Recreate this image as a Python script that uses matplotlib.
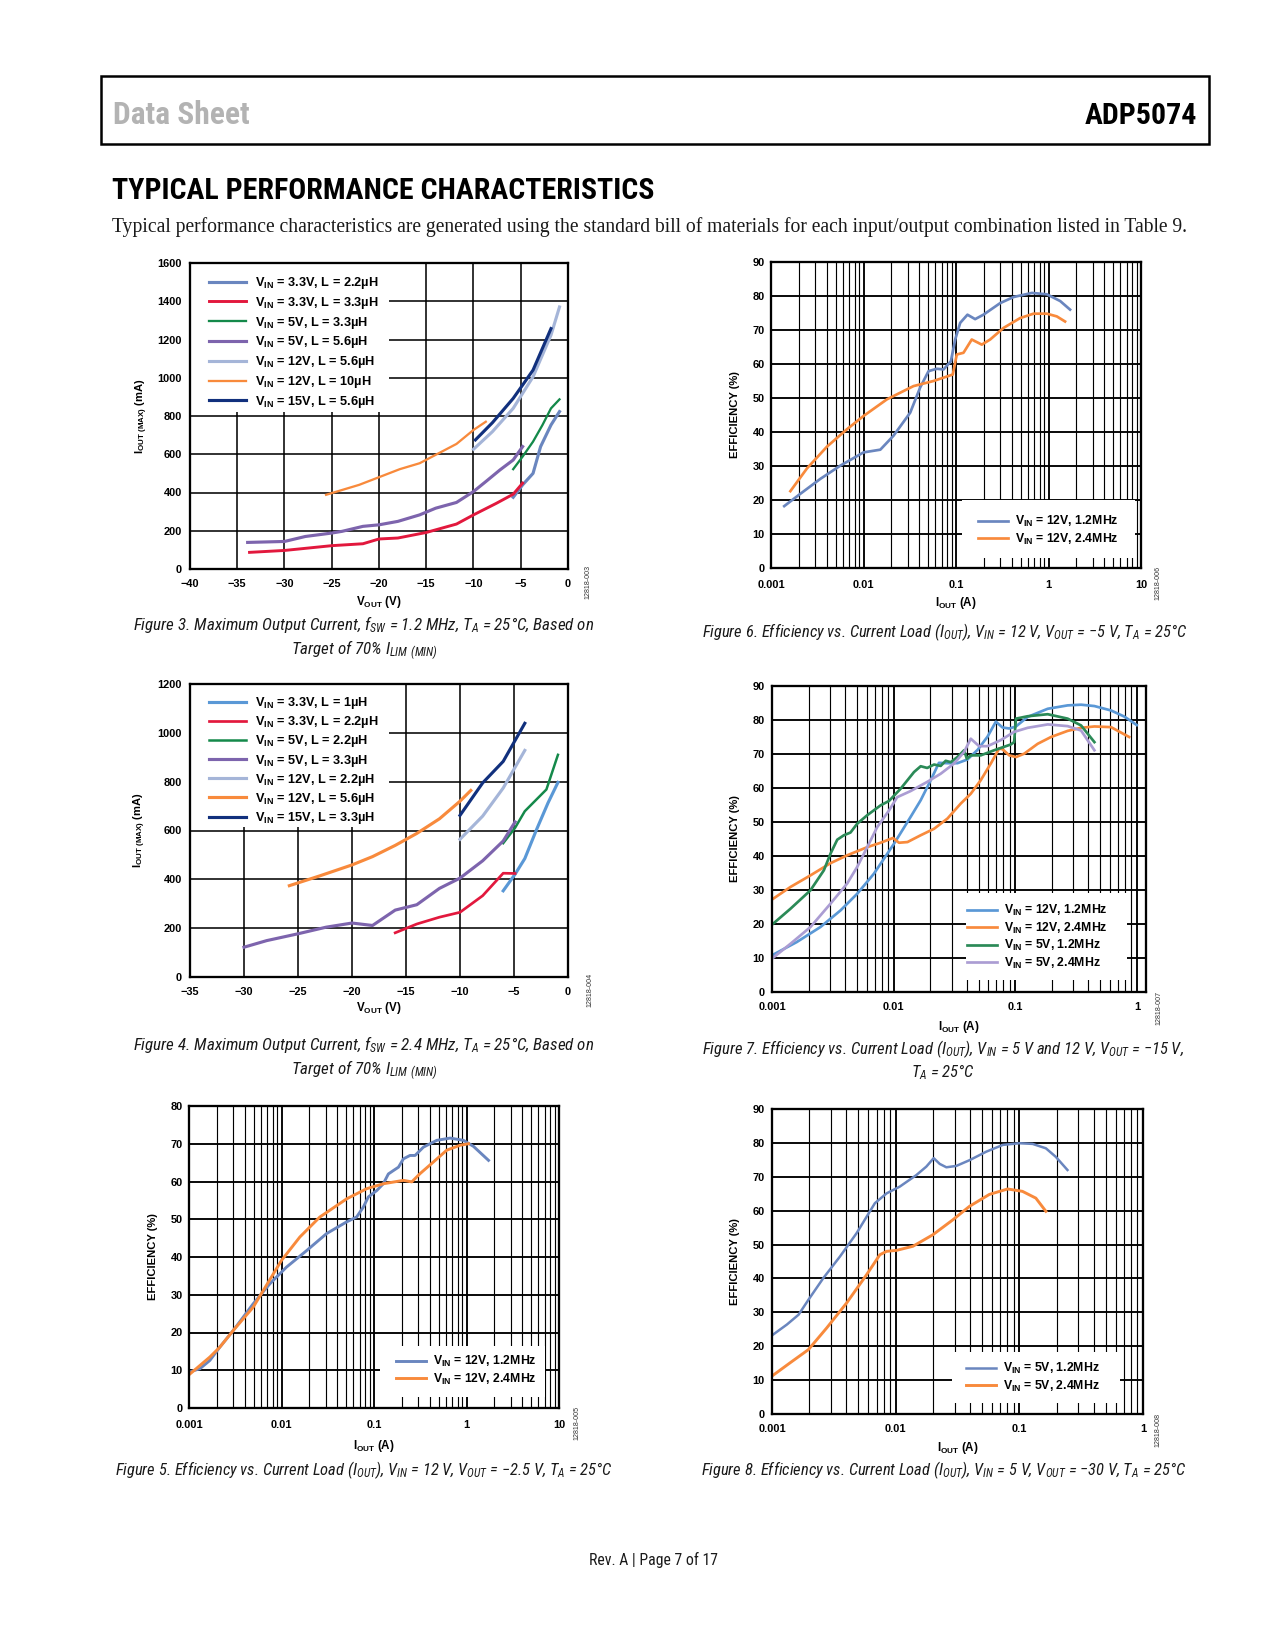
import matplotlib
matplotlib.use("Agg")
import matplotlib.pyplot as plt
from matplotlib import font_manager as fm
from matplotlib.patches import Rectangle
from matplotlib.ticker import LogLocator, NullFormatter
import numpy as np

W, H = 1275, 1650

# ---- Figure 3 data (fSW = 1.2 MHz), VOUT (V) vs IOUT(MAX) (mA)
f3_x_33v_22 = [-5.8, -4.8, -3.7, -2.9, -1.8, -0.9]
f3_y_33v_22 = [375, 440, 500, 640, 753, 823]
f3_x_33v_33 = [-33.7, -30, -25, -21.7, -20, -18, -15, -11.8, -10, -7.6, -5.8, -4.8]
f3_y_33v_33 = [87, 97, 122, 132, 157, 162, 191, 235, 283, 343, 391, 449]
f3_x_5v_33 = [-5.8, -4.8, -3.7, -2.7, -1.8, -0.9]
f3_y_5v_33 = [522, 588, 666, 753, 840, 887]
f3_x_5v_56 = [-33.9, -30, -27.8, -25, -23.9, -21.7, -20, -18, -15.7, -14, -11.8, -10, -8.7, -7.2, -5.8, -4.8]
f3_y_5v_56 = [139, 144, 170, 188, 197, 223, 231, 249, 283, 318, 348, 405, 457, 518, 570, 640]
f3_x_12v_56 = [-10, -8, -5.8, -3.7, -1.8, -0.9]
f3_y_12v_56 = [626, 718, 840, 1005, 1223, 1370]
f3_x_12v_10 = [-25.6, -22.1, -20, -17.8, -15.7, -14, -11.8, -10, -8.7]
f3_y_12v_10 = [388, 440, 480, 522, 553, 597, 654, 727, 770]
f3_x_15v_56 = [-9.8, -8, -5.8, -4.8, -3.7, -1.8]
f3_y_15v_56 = [675, 765, 892, 962, 1040, 1257]

# ---- Figure 4 data (fSW = 2.4 MHz)
f4_x_33v_1 = [-6.0, -4.9, -4.0, -2.9, -1.85, -0.93]
f4_y_33v_1 = [353, 421, 485, 605, 713, 797]
f4_x_33v_22 = [-16, -14, -11.9, -10, -7.9, -6.0, -4.9]
f4_y_33v_22 = [181, 217, 245, 265, 333, 425, 424]
f4_x_5v_22 = [-6.0, -4.9, -4.0, -2.0, -0.93]
f4_y_5v_22 = [548, 611, 679, 768, 910]
f4_x_5v_33 = [-30, -27.9, -25, -22.4, -20, -18.1, -16, -14, -11.9, -10, -7.9, -6, -4.9]
f4_y_5v_33 = [122, 149, 177, 204, 221, 211, 274, 296, 363, 405, 476, 557, 635]
f4_x_12v_22 = [-10, -7.9, -6, -4.0]
f4_y_12v_22 = [564, 659, 774, 928]
f4_x_12v_56 = [-25.8, -23, -20, -18.1, -16, -14, -11.9, -10, -9]
f4_y_12v_56 = [374, 414, 459, 493, 539, 588, 648, 720, 764]
f4_x_15v_33 = [-10, -7.9, -6, -4.0]
f4_y_15v_33 = [662, 795, 883, 1039]

# ---- Figure 5 data, VOUT = -2.5 V
f5_i_12 = [0.001, 0.00131, 0.00168, 0.00215, 0.0030, 0.00494, 0.00748, 0.0113, 0.0187, 0.0307,
           0.0506, 0.0649, 0.0766, 0.0868, 0.107, 0.126, 0.143, 0.162, 0.184, 0.208, 0.245,
           0.278, 0.342, 0.477, 0.665, 0.929, 1.19, 1.73]
f5_e_12 = [9.5, 10.4, 12.6, 16.1, 20.5, 27.6, 32.9, 37.3, 41.7, 46.2, 49.3, 50.6, 53.2, 55.9,
           57.6, 59.4, 62.0, 62.9, 63.8, 66.0, 66.9, 66.9, 69.1, 70.9, 71.5, 70.9, 69.3, 65.6]
f5_i_24 = [0.001, 0.00168, 0.00215, 0.0030, 0.00494, 0.01, 0.0158, 0.026, 0.0506, 0.0834,
           0.126, 0.208, 0.256, 0.315, 0.44, 0.612, 0.853, 1.05]
f5_e_24 = [8.8, 13.5, 16.1, 20.5, 26.7, 39.1, 45.3, 50.6, 55.4, 58.1, 59.4, 60.3, 59.9, 62.1,
           65.2, 68.3, 69.6, 70.0]

# ---- Figure 6 data, VOUT = -5 V
f6_i_12 = [0.00139, 0.00207, 0.00341, 0.00561, 0.01, 0.0152, 0.0211, 0.032, 0.041, 0.0505,
           0.062, 0.0733, 0.088, 0.098, 0.111, 0.133, 0.161, 0.198, 0.30, 0.419, 0.66, 0.96,
           1.34, 1.71]
f6_e_12 = [18.2, 21.8, 26.2, 30.1, 34.0, 34.8, 38.9, 45.7, 53.1, 57.9, 58.6, 58.4, 60.8, 67.2,
           72.1, 74.5, 73.2, 74.5, 77.9, 79.7, 80.9, 80.5, 78.5, 76.0]
f6_i_24 = [0.00162, 0.00245, 0.00403, 0.00662, 0.01, 0.0179, 0.0347, 0.0571, 0.0923, 0.102,
           0.1205, 0.148, 0.19, 0.234, 0.326, 0.493, 0.688, 0.96, 1.23, 1.51]
f6_e_24 = [22.6, 29.3, 35.7, 40.8, 44.7, 49.6, 53.5, 55.0, 56.9, 62.8, 63.3, 67.2, 65.7, 67.2,
           70.6, 73.5, 74.8, 74.8, 74.0, 72.5]

# ---- Figure 7 data, VOUT = -15 V
f7_i_12v12 = [0.001, 0.0016, 0.0025, 0.00366, 0.00502, 0.00689, 0.01007, 0.0138, 0.0167, 0.0202,
              0.0236, 0.0277, 0.0335, 0.0405, 0.049, 0.0592, 0.0693, 0.0787, 0.0893, 0.1014,
              0.1265, 0.185, 0.27, 0.348, 0.448, 0.614, 0.79, 1.0]
f7_e_12v12 = [10.8, 14.7, 19.1, 24.0, 28.9, 34.8, 43.6, 51.5, 56.4, 62.3, 67.4, 67.3, 67.3, 68.4,
              71.2, 75.1, 79.5, 77.8, 77.5, 78.1, 80.9, 83.3, 84.3, 84.5, 84.1, 82.8, 81.0, 78.5]
f7_i_12v24 = [0.001, 0.00142, 0.00207, 0.00303, 0.00415, 0.00607, 0.00782, 0.00988, 0.01107,
              0.0130, 0.0167, 0.0215, 0.0277, 0.0356, 0.0431, 0.0521, 0.063, 0.0738, 0.0787,
              0.0893, 0.1014, 0.1187, 0.153, 0.197, 0.27, 0.348, 0.448, 0.614, 0.865]
f7_e_12v24 = [27.2, 30.9, 34.3, 37.9, 40.2, 42.6, 43.9, 45.3, 43.9, 44.1, 46.1, 48.0, 51.0, 55.4,
              58.3, 62.3, 67.2, 71.6, 71.4, 69.6, 69.1, 70.1, 73.0, 75.0, 76.8, 77.7, 78.1, 77.9,
              75.0]
f7_i_5v12 = [0.001, 0.00142, 0.00207, 0.00267, 0.00303, 0.00344, 0.0039, 0.00442, 0.00502,
             0.00607, 0.00782, 0.00917, 0.01143, 0.01472, 0.0167, 0.0189, 0.0215, 0.0244,
             0.0268, 0.0295, 0.0335, 0.038, 0.04, 0.0431, 0.0521, 0.0671, 0.092, 0.098, 0.1014,
             0.1265, 0.185, 0.27, 0.348, 0.448]
f7_e_5v12 = [19.8, 24.5, 29.9, 35.8, 40.7, 44.8, 46.1, 46.9, 49.5, 52.0, 54.9, 56.2, 59.8, 64.7,
             66.4, 65.9, 66.9, 66.5, 68.0, 67.6, 69.1, 71.1, 68.6, 69.6, 69.6, 71.1, 72.8, 73.5,
             80.4, 81.1, 81.7, 80.4, 78.4, 73.5]
f7_i_5v24 = [0.001, 0.00142, 0.00207, 0.00303, 0.00415, 0.00502, 0.00607, 0.00733, 0.00917,
             0.0107, 0.0138, 0.0189, 0.0244, 0.0314, 0.038, 0.0431, 0.0505, 0.0592, 0.0762,
             0.098, 0.1265, 0.185, 0.27, 0.348, 0.448]
f7_e_5v24 = [9.8, 14.2, 19.1, 26.0, 31.9, 36.8, 42.6, 48.5, 53.4, 57.3, 59.1, 61.8, 64.2, 67.2,
             70.6, 74.5, 72.3, 72.3, 74.1, 76.5, 77.7, 78.7, 78.2, 76.9, 71.1]

# ---- Figure 8 data, VOUT = -30 V
f8_i_12 = [0.001, 0.00132, 0.00164, 0.00197, 0.0026, 0.00355, 0.00484, 0.00679, 0.00844,
           0.0108, 0.0147, 0.0177, 0.0203, 0.0227, 0.0257, 0.0309, 0.0396, 0.054, 0.0735, 0.1,
           0.128, 0.164, 0.197, 0.245]
f8_e_12 = [23.2, 26.4, 29.3, 33.7, 40.1, 46.5, 53.4, 62.2, 65.1, 67.1, 70.5, 73.0, 75.5, 73.8,
           72.8, 73.2, 74.9, 77.4, 79.4, 79.9, 79.7, 78.4, 75.9, 72.0]
f8_i_24 = [0.001, 0.0014, 0.00197, 0.00277, 0.00402, 0.00582, 0.00745, 0.00844, 0.0102, 0.0138,
           0.02, 0.029, 0.0396, 0.0573, 0.0805, 0.106, 0.136, 0.164]
f8_e_24 = [11.2, 15.1, 19.0, 25.4, 32.8, 41.1, 47.0, 48.0, 48.3, 49.5, 52.9, 57.3, 61.3, 64.8,
           66.4, 65.7, 63.7, 59.8]

log_ticks = [0.001, 0.01, 0.1, 1, 10]
log_labels = ["0.001", "0.01", "0.1", "1", "10"]

names = {f.name for f in fm.fontManager.ttflist}
SANS = "Liberation Sans"
SERIF = "Liberation Serif"
narrow_cands = ["Roboto Condensed", "Liberation Sans Narrow", "Open Sans Condensed",
                "Noto Sans Condensed", "DejaVu Sans Condensed"]
NARROW = next((n for n in narrow_cands if n in names), SANS)

plt.rcParams["font.family"] = [SANS, "DejaVu Sans"]
plt.rcParams["font.weight"] = "bold"
plt.rcParams["axes.labelweight"] = "bold"
plt.rcParams["mathtext.default"] = "regular"

C_BLUE = "#6a86bf"
C_RED = "#e2183d"
C_GREEN = "#14894a"
C_PURPLE = "#7d64ad"
C_LBLUE = "#a5b5d8"
C_ORANGE = "#f88a3c"
C_NAVY = "#11307d"
C_SKY = "#5a98d6"
C_LAV = "#ab9dd3"

fig = plt.figure(figsize=(W / 150, H / 150), dpi=150)
to_fit = []


def fx(x):
    return x / W


def fy(y):
    return 1 - y / H


def make_axes(box, xpad, ypad, xoff, yoff, xlabel, ylabel):
    x0, y0, x1, y1 = box
    ax = fig.add_axes([fx(x0), fy(y1), (x1 - x0) / W, (y1 - y0) / H])
    ax.set_axisbelow(True)
    ax.tick_params(which="both", length=0, labelsize=5.3)
    ax.tick_params(axis="x", pad=xpad)
    ax.tick_params(axis="y", pad=ypad)
    for s in ax.spines.values():
        s.set_linewidth(1.1)
    ax.set_xlabel(xlabel, fontsize=5.6, va="center")
    ax.set_ylabel(ylabel, fontsize=5.4, va="center")
    ax.xaxis.set_label_coords(0.5, -xoff / (y1 - y0))
    ax.yaxis.set_label_coords(-yoff / (x1 - x0), 0.5)
    return ax


def log_x(ax, xmax):
    ax.set_xscale("log")
    ax.set_xlim(0.001, xmax)
    ax.xaxis.set_minor_locator(LogLocator(base=10, subs=np.arange(2, 10)))
    ax.xaxis.set_minor_formatter(NullFormatter())
    ticks = [t for t in log_ticks if t <= xmax * 1.001]
    ax.set_xticks(ticks, log_labels[:len(ticks)])
    ax.grid(True, which="major", color="black", linewidth=0.9)
    ax.xaxis.grid(True, which="minor", color="black", linewidth=0.55)
    ax.set_ylim(0, 90)
    ax.set_yticks(range(0, 91, 10))


def blank(ax, x0, y0, x1, y1):
    ax.add_patch(Rectangle((fx(x0), fy(y1)), (x1 - x0) / W, (y1 - y0) / H,
                           transform=fig.transFigure, facecolor="white",
                           edgecolor="none", zorder=1))


def legend(ax, x, y, size, hl, tp, ls):
    ax.legend(loc="upper left", bbox_to_anchor=(fx(x), fy(y)), bbox_transform=fig.transFigure,
              frameon=False, prop={"weight": "bold", "size": size}, handlelength=hl,
              handletextpad=tp, labelspacing=ls, borderpad=0, borderaxespad=0)


def tag(x, y, s):
    fig.text(fx(x), fy(y), s, rotation=90, fontsize=3.4, weight="normal", color="#333333",
             ha="center", va="center")


def caption(x, y, s, width):
    t = fig.text(fx(x), fy(y), s, fontsize=8.2, family=[NARROW, SANS], style="italic",
                 weight="normal", ha="center", va="center", linespacing=1.15, color="#1a1a1a")
    to_fit.append((t, width))


VOUT = "V$_{OUT}$ (V)"
IMAX = "I$_{OUT\\ (MAX)}$ (mA)"
IOUT = "I$_{OUT}$ (A)"
EFF = "EFFICIENCY (%)"

# ---------------- Figure 3
ax = make_axes((190, 263, 568, 569), 4.6, 3.8, 33, 48, VOUT, IMAX)
ax.set_xlim(-40, 0)
ax.set_ylim(0, 1600)
ax.set_xticks(range(-40, 1, 5))
ax.set_yticks(range(0, 1601, 200))
ax.grid(True, color="black", linewidth=0.75)
blank(ax, 190, 263, 389, 412)
ax.plot(f3_x_33v_22, f3_y_33v_22, color=C_BLUE, lw=1.5, label="V$_{IN}$ = 3.3V, L = 2.2µH")
ax.plot(f3_x_33v_33, f3_y_33v_33, color=C_RED, lw=1.4, label="V$_{IN}$ = 3.3V, L = 3.3µH")
ax.plot(f3_x_5v_33, f3_y_5v_33, color=C_GREEN, lw=1.1, label="V$_{IN}$ = 5V, L = 3.3µH")
ax.plot(f3_x_5v_56, f3_y_5v_56, color=C_PURPLE, lw=1.5, label="V$_{IN}$ = 5V, L = 5.6µH")
ax.plot(f3_x_12v_56, f3_y_12v_56, color=C_LBLUE, lw=1.5, label="V$_{IN}$ = 12V, L = 5.6µH")
ax.plot(f3_x_12v_10, f3_y_12v_10, color=C_ORANGE, lw=1.1, label="V$_{IN}$ = 12V, L = 10µH")
ax.plot(f3_x_15v_56, f3_y_15v_56, color=C_NAVY, lw=1.5, label="V$_{IN}$ = 15V, L = 5.6µH")
legend(ax, 209, 275, 6.1, 2.9, 0.7, 0.3)
tag(588, 582, "12818-003")
caption(364, 638, "Figure 3. Maximum Output Current, f$_{SW}$ = 1.2 MHz, T$_{A}$ = 25°C, Based on\n"
                  "Target of 70% I$_{LIM\\ (MIN)}$", 460)

# ---------------- Figure 4
ax = make_axes((190, 684, 568, 977), 4.6, 3.8, 31, 50, VOUT, IMAX)
ax.set_xlim(-35, 0)
ax.set_ylim(0, 1200)
ax.set_xticks(range(-35, 1, 5))
ax.set_yticks(range(0, 1201, 200))
ax.grid(True, color="black", linewidth=0.75)
blank(ax, 190, 684, 389, 827)
ax.plot(f4_x_33v_1, f4_y_33v_1, color=C_SKY, lw=1.5, label="V$_{IN}$ = 3.3V, L = 1µH")
ax.plot(f4_x_33v_22, f4_y_33v_22, color=C_RED, lw=1.3, label="V$_{IN}$ = 3.3V, L = 2.2µH")
ax.plot(f4_x_5v_22, f4_y_5v_22, color=C_GREEN, lw=1.2, label="V$_{IN}$ = 5V, L = 2.2µH")
ax.plot(f4_x_5v_33, f4_y_5v_33, color=C_PURPLE, lw=1.5, label="V$_{IN}$ = 5V, L = 3.3µH")
ax.plot(f4_x_12v_22, f4_y_12v_22, color=C_LBLUE, lw=1.5, label="V$_{IN}$ = 12V, L = 2.2µH")
ax.plot(f4_x_12v_56, f4_y_12v_56, color=C_ORANGE, lw=1.5, label="V$_{IN}$ = 12V, L = 5.6µH")
ax.plot(f4_x_15v_33, f4_y_15v_33, color=C_NAVY, lw=1.5, label="V$_{IN}$ = 15V, L = 3.3µH")
legend(ax, 209, 695, 6.1, 2.9, 0.7, 0.25)
tag(590, 990, "12818-004")
caption(364, 1058, "Figure 4. Maximum Output Current, f$_{SW}$ = 2.4 MHz, T$_{A}$ = 25°C, Based on\n"
                   "Target of 70% I$_{LIM\\ (MIN)}$", 460)

# ---------------- Figure 5
ax = make_axes((189, 1106, 559, 1408), 5.6, 3.0, 38, 36, IOUT, EFF)
log_x(ax, 10)
ax.set_ylim(0, 80)
ax.set_yticks(range(0, 81, 10))
blank(ax, 380, 1346, 545, 1397)
ax.plot(f5_i_12, f5_e_12, color=C_BLUE, lw=1.4, label="V$_{IN}$ = 12V, 1.2MHz")
ax.plot(f5_i_24, f5_e_24, color=C_ORANGE, lw=1.4, label="V$_{IN}$ = 12V, 2.4MHz")
legend(ax, 396, 1354, 5.9, 2.45, 0.6, 0.2)
tag(577, 1423, "12818-005")
caption(364, 1470, "Figure 5. Efficiency vs. Current Load (I$_{OUT}$), V$_{IN}$ = 12 V, "
                   "V$_{OUT}$ = −2.5 V, T$_{A}$ = 25°C", 494)

# ---------------- Figure 6
ax = make_axes((771, 262, 1141, 568), 5.8, 2.9, 35, 36, IOUT, EFF)
log_x(ax, 10)
blank(ax, 962, 500, 1135, 558)
ax.plot(f6_i_12, f6_e_12, color=C_BLUE, lw=1.3, label="V$_{IN}$ = 12V, 1.2MHz")
ax.plot(f6_i_24, f6_e_24, color=C_ORANGE, lw=1.3, label="V$_{IN}$ = 12V, 2.4MHz")
legend(ax, 978, 514, 5.9, 2.45, 0.6, 0.2)
tag(1158, 583, "12818-006")
caption(945, 632, "Figure 6. Efficiency vs. Current Load (I$_{OUT}$), V$_{IN}$ = 12 V, "
                  "V$_{OUT}$ = −5 V, T$_{A}$ = 25°C", 484)

# ---------------- Figure 7
ax = make_axes((772, 686, 1146, 992), 4.8, 3.4, 35, 37, IOUT, EFF)
log_x(ax, 1.19)
blank(ax, 966, 893, 1127, 980)
ax.plot(f7_i_12v12, f7_e_12v12, color=C_SKY, lw=1.3, label="V$_{IN}$ = 12V, 1.2MHz")
ax.plot(f7_i_12v24, f7_e_12v24, color=C_ORANGE, lw=1.3, label="V$_{IN}$ = 12V, 2.4MHz")
ax.plot(f7_i_5v12, f7_e_5v12, color="#2b8a57", lw=1.3, label="V$_{IN}$ = 5V, 1.2MHz")
ax.plot(f7_i_5v24, f7_e_5v24, color=C_LAV, lw=1.3, label="V$_{IN}$ = 5V, 2.4MHz")
legend(ax, 967, 903, 5.9, 2.45, 0.6, 0.2)
tag(1159, 1008, "12818-007")
caption(943, 1060, "Figure 7. Efficiency vs. Current Load (I$_{OUT}$), V$_{IN}$ = 5 V and 12 V, "
                   "V$_{OUT}$ = −15 V,\nT$_{A}$ = 25°C", 481)

# ---------------- Figure 8
ax = make_axes((772, 1109, 1143, 1414), 4.8, 3.4, 34, 37, IOUT, EFF)
log_x(ax, 1)
blank(ax, 952, 1352, 1120, 1403)
ax.plot(f8_i_12, f8_e_12, color=C_BLUE, lw=1.2, label="V$_{IN}$ = 5V, 1.2MHz")
ax.plot(f8_i_24, f8_e_24, color=C_ORANGE, lw=1.4, label="V$_{IN}$ = 5V, 2.4MHz")
legend(ax, 966, 1361, 5.9, 2.45, 0.6, 0.2)
tag(1158, 1430, "12818-008")
caption(944, 1470, "Figure 8. Efficiency vs. Current Load (I$_{OUT}$), V$_{IN}$ = 5 V, "
                   "V$_{OUT}$ = −30 V, T$_{A}$ = 25°C", 483)

# ---------------- page furniture
fig.add_artist(Rectangle((fx(101), fy(144)), (1209 - 101) / W, (144 - 75.5) / H,
                         transform=fig.transFigure, fill=False, lw=1.2, edgecolor="black"))
t = fig.text(fx(113), fy(124), "Data Sheet", fontsize=18, family=[NARROW, SANS], weight="bold",
             color="#b3b3b3", va="baseline")
to_fit.append((t, 137))
t = fig.text(fx(1197), fy(124), "ADP5074", fontsize=18, family=[NARROW, SANS], weight="bold",
             color="black", va="baseline", ha="right")
to_fit.append((t, 112))
t = fig.text(fx(112), fy(199), "TYPICAL PERFORMANCE CHARACTERISTICS", fontsize=19,
             family=[NARROW, SANS], weight="bold", color="black", va="baseline")
to_fit.append((t, 542))
t = fig.text(fx(112), fy(232), "Typical performance characteristics are generated using the "
             "standard bill of materials for each input/output combination listed in Table 9.",
             fontsize=9.6, family=SERIF, weight="normal", color="#1a1a1a", va="baseline")
to_fit.append((t, 1077))
t = fig.text(fx(653), fy(1560), "Rev. A | Page 7 of 17", fontsize=7, family=[NARROW, SANS],
             weight="normal", color="#1a1a1a", ha="center", va="center")
to_fit.append((t, 129))

# shrink wide texts to the widths they take on the page
renderer = fig.canvas.get_renderer()
for t, width in to_fit:
    w = t.get_window_extent(renderer).width
    t.set_fontsize(t.get_fontsize() * width / w)

fig.savefig("out.png", dpi=150)
